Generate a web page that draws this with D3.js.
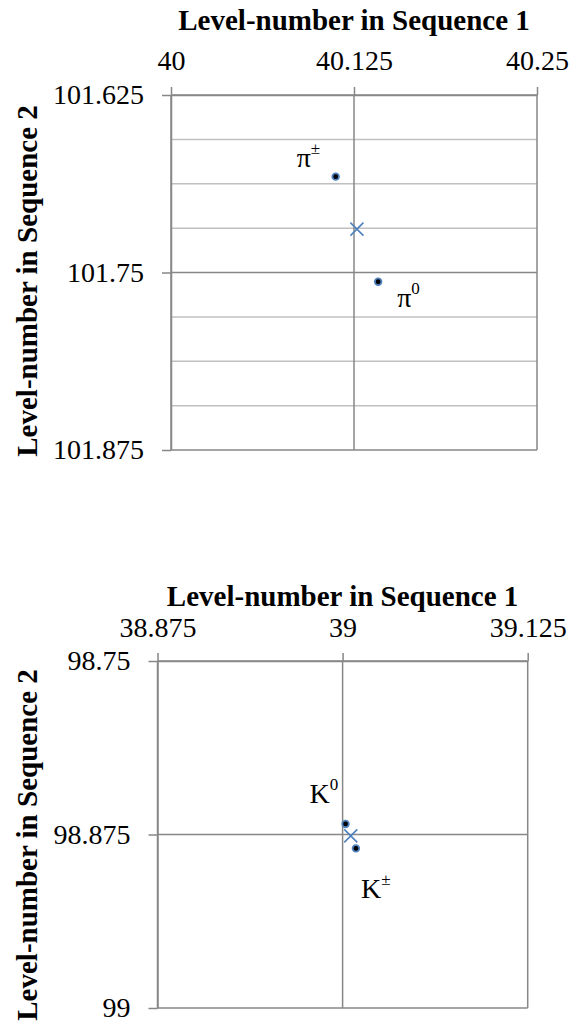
<!DOCTYPE html>
<html>
<head>
<meta charset="utf-8">
<script src="https://cdn.jsdelivr.net/npm/d3@7"></script>
<style>
  html, body { margin: 0; padding: 0; background: #fff; }
  svg { display: block; }
</style>
</head>
<body>
<script>
// ---------- data ----------
const xTitle = "Level-number in Sequence 1";
const yTitle = "Level-number in Sequence 2";

// chart 1 (pions)
const xTicks1 = [40, 40.125, 40.25];
const yTicks1 = [101.625, 101.75, 101.875];
const yMinor1 = [101.65625, 101.6875, 101.71875, 101.78125, 101.8125, 101.84375];
const names1 = ["π", "π"];
const sups1 = ["±", "0"];
const px1 = [40.1125, 40.1415];
const py1 = [101.6825, 101.7565];
const meanX1 = [40.127];
const meanY1 = [101.7195];

// chart 2 (kaons)
const xTicks2 = [38.875, 39, 39.125];
const yTicks2 = [98.75, 98.875, 99];
const yMinor2 = [];
const names2 = ["K", "K"];
const sups2 = ["0", "±"];
const px2 = [39.002, 39.009];
const py2 = [98.8674, 98.885];
const meanX2 = [39.0055];
const meanY2 = [98.876];

// ---------- layout (not data) ----------
const W = 572, H = 1024;
const FONT = "'Liberation Serif', 'Times New Roman', serif";
const charts = [
  { xTicks: xTicks1, yTicks: yTicks1, yMinor: yMinor1, names: names1, sups: sups1, px: px1, py: py1, mx: meanX1, my: meanY1,
    left: 171, right: 537, top: 95, bottom: 450, titleY: 30, xLabPad: 17, yTitleCy: 281,
    labelOff: [[-39, -9.5], [19, 25]] },
  { xTicks: xTicks2, yTicks: yTicks2, yMinor: yMinor2, names: names2, sups: sups2, px: px2, py: py2, mx: meanX2, my: meanY2,
    left: 157.5, right: 527.7, top: 661, bottom: 1008, titleY: 606, xLabPad: 16, yTitleCy: 845,
    labelOff: [[-36, -21], [5, 50]] }
];

const svg = d3.select("body").append("svg").attr("width", W).attr("height", H);

const major = "#878787", minor = "#c0c0c0", blue = "#4f81bd";

charts.forEach(c => {
  const x = d3.scaleLinear().domain([c.xTicks[0], c.xTicks[c.xTicks.length - 1]]).range([c.left, c.right]);
  const y = d3.scaleLinear().domain([c.yTicks[0], c.yTicks[c.yTicks.length - 1]]).range([c.top, c.bottom]);
  const g = svg.append("g");

  // minor horizontal gridlines
  g.selectAll("line.minor").data(c.yMinor).join("line")
    .attr("x1", c.left).attr("x2", c.right)
    .attr("y1", d => y(d)).attr("y2", d => y(d))
    .attr("stroke", minor).attr("stroke-width", 1.5);

  // major gridlines
  g.selectAll("line.hmaj").data(c.yTicks).join("line")
    .attr("x1", c.left).attr("x2", c.right)
    .attr("y1", d => y(d)).attr("y2", d => y(d))
    .attr("stroke", major).attr("stroke-width", 1.5);
  g.selectAll("line.vmaj").data(c.xTicks).join("line")
    .attr("y1", c.top).attr("y2", c.bottom)
    .attr("x1", d => x(d)).attr("x2", d => x(d))
    .attr("stroke", major).attr("stroke-width", 1.5);

  // axes
  const ax = g.append("g").attr("transform", `translate(0,${c.top})`)
    .call(d3.axisTop(x).tickValues(c.xTicks).tickSizeInner(8).tickSizeOuter(0).tickPadding(c.xLabPad).tickFormat(d => String(d)));
  const ay = g.append("g").attr("transform", `translate(${c.left},0)`)
    .call(d3.axisLeft(y).tickValues(c.yTicks).tickSizeInner(9).tickSizeOuter(0).tickPadding(18).tickFormat(d => String(d)));
  [ax, ay].forEach(a => {
    a.attr("font-family", null).attr("font-size", null);
    a.select(".domain").attr("stroke", major).attr("stroke-width", 1.5);
    a.selectAll(".tick line").attr("stroke", major).attr("stroke-width", 1.5);
    a.selectAll(".tick text").style("font-family", FONT).style("font-size", "28px").attr("fill", "#000");
  });

  // titles
  g.append("text").attr("x", (c.left + c.right) / 2).attr("y", c.titleY)
    .attr("text-anchor", "middle").style("font-family", FONT).style("font-weight", "bold").style("font-size", "29px").text(xTitle);
  g.append("text").attr("transform", `translate(37,${c.yTitleCy}) rotate(-90)`)
    .attr("text-anchor", "middle").style("font-family", FONT).style("font-weight", "bold").style("font-size", "29px").text(yTitle);

  // mean marker (x)
  const mean = c.mx.map((v, i) => [v, c.my[i]]);
  g.selectAll("path.mean").data(mean).join("path")
    .attr("d", d => {
      const cx = x(d[0]), cy = y(d[1]), s = 6.5;
      return `M${cx - s},${cy - s}L${cx + s},${cy + s}M${cx - s},${cy + s}L${cx + s},${cy - s}`;
    })
    .attr("stroke", blue).attr("stroke-width", 1.6).attr("fill", "none");

  // points
  const pts = c.px.map((v, i) => ({ x: v, y: c.py[i], name: c.names[i], sup: c.sups[i], off: c.labelOff[i] }));
  g.selectAll("circle.pt").data(pts).join("circle")
    .attr("cx", d => x(d.x)).attr("cy", d => y(d.y)).attr("r", 3.3)
    .attr("fill", "#000").attr("stroke", blue).attr("stroke-width", 1.8);

  // point labels
  const lab = g.selectAll("text.lab").data(pts).join("text")
    .attr("x", d => x(d.x) + d.off[0]).attr("y", d => y(d.y) + d.off[1])
    .style("font-family", FONT).style("font-size", "28px");
  lab.append("tspan").text(d => d.name);
  lab.append("tspan").style("font-size", "17px").attr("dy", -13).text(d => d.sup);
});
</script>
</body>
</html>
